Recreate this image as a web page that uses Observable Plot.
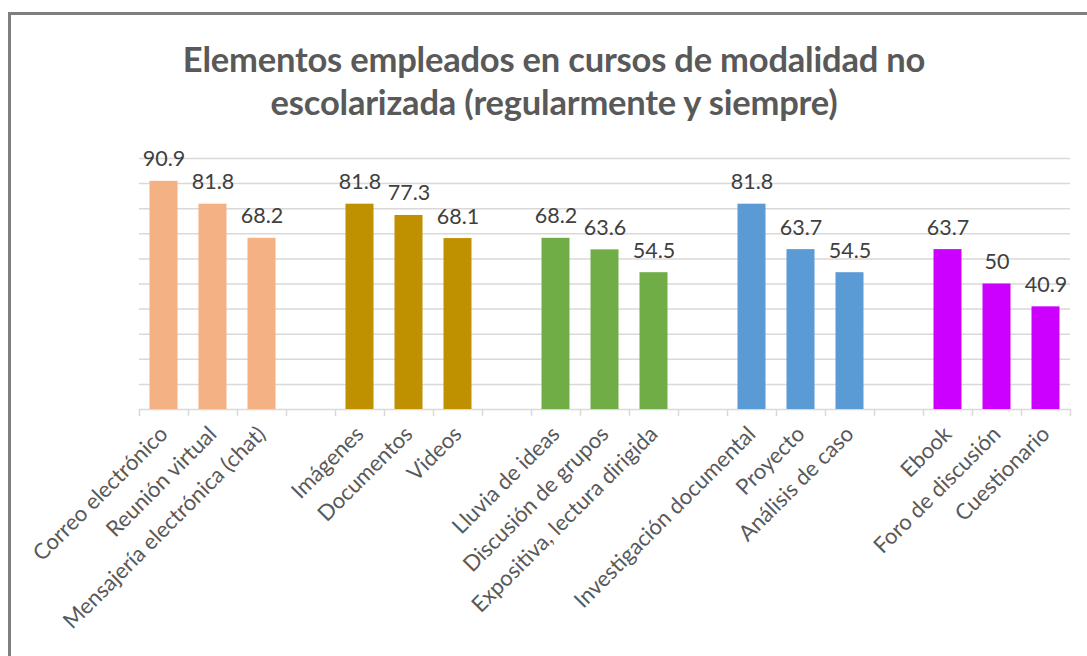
<!DOCTYPE html>
<html><head><meta charset="utf-8">
<script src="https://cdn.jsdelivr.net/npm/d3@7"></script>
<script src="https://cdn.jsdelivr.net/npm/@observablehq/plot@0.6"></script>
<style>
body{margin:0;background:#fff;font-family:Lato,"Open Sans",sans-serif;}
#wrap{position:relative;width:1087px;height:656px;overflow:hidden;background:#fff;}
#frame{position:absolute;left:8px;top:12px;width:1100px;height:700px;border-top:3px solid #7f7f7f;border-left:3px solid #7f7f7f;box-sizing:border-box;}
#title{position:absolute;left:20px;width:1068px;top:37px;text-align:center;font-family:Lato,sans-serif;font-weight:bold;font-size:34.5px;line-height:43px;color:#595959;letter-spacing:-0.2px;}
#chart{position:absolute;left:0;top:140px;}
</style></head>
<body>
<div id="wrap">
<div id="frame"></div>
<div id="title">Elementos empleados en cursos de modalidad no<br>escolarizada (regularmente y siempre)</div>
<div id="chart"></div>
</div>
<script>
const categories = ["Correo electrónico","Reunión virtual","Mensajería electrónica (chat)",
  "Imágenes","Documentos","Videos",
  "Lluvia de ideas","Discusión de grupos","Expositiva, lectura dirigida",
  "Investigación documental","Proyecto","Análisis de caso",
  "Ebook","Foro de discusión","Cuestionario"];
const values = [90.9,81.8,68.2, 81.8,77.3,68.1, 68.2,63.6,54.5, 81.8,63.7,54.5, 63.7,50,40.9];
const groups = [0,0,0, 1,1,1, 2,2,2, 3,3,3, 4,4,4];
const groupColors = ["#F4B183","#BF9000","#70AD47","#5B9BD5","#CC00FF"];
const yTicks = [0,10,20,30,40,50,60,70,80,90,100];

const data = categories.map((c,i)=>({c, v: values[i], g: groups[i], pos: i + groups[i]}));
const nSlots = categories.length + groupColors.length - 1;
const nameAt = new Map(data.map(d=>[d.pos+0.5, d.c]));

const chart = Plot.plot({
  width: 1087, height: 516,
  marginTop: 18, marginBottom: 247, marginLeft: 139, marginRight: 17,
  style: {fontFamily: "Lato, sans-serif", background: "transparent"},
  x: {type: "linear", domain: [0, nSlots], axis: null, label: null},
  y: {domain: [0, 100], axis: null, label: null},
  marks: [
    Plot.ruleY(yTicks, {stroke: "#d9d9d9", strokeWidth: 1.5}),
    Plot.rectY(data, {x1: "pos", x2: d=>d.pos+1, y1: 0, y2: "v", fill: d=>groupColors[d.g], insetLeft: 10.5, insetRight: 10.5}),
    Plot.text(data, {x: d=>d.pos+0.5, y: "v", text: d=>String(d.v), lineAnchor: "bottom", dy: -15, fontSize: 21.5, fill: "#404040"}),
    Plot.axisX(d3.range(0, nSlots+1), {tickSize: 7, tickFormat: () => "", label: null, stroke: "#d9d9d9", strokeWidth: 1.5, strokeOpacity: 1}),
    Plot.axisX(data.map(d=>d.pos+0.5), {tickSize: 0, tickPadding: 21, tickRotate: -45, label: null, tickFormat: v => nameAt.get(v), fontSize: 22, fill: "#595959"})
  ]
});
document.getElementById("chart").appendChild(chart);
</script>
</body></html>
